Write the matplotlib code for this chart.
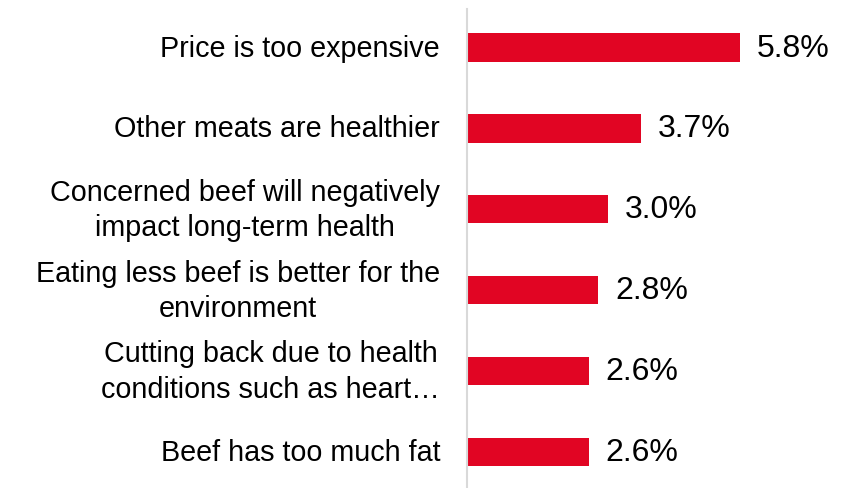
import matplotlib.pyplot as plt

plt.rcParams['font.family'] = ['Liberation Sans', 'DejaVu Sans']

reasons = [
    "Price is too expensive",
    "Other meats are healthier",
    "Concerned beef will negatively\nimpact long-term health",
    "Eating less beef is better for the\nenvironment",
    "Cutting back due to health\nconditions such as heart\u2026",
    "Beef has too much fat",
]
shares = [5.8, 3.7, 3.0, 2.8, 2.6, 2.6]
value_labels = ["5.8%", "3.7%", "3.0%", "2.8%", "2.6%", "2.6%"]

bar_color = "#E10523"

fig = plt.figure(figsize=(8.43, 4.89), dpi=100)
ax = fig.add_axes([466.5 / 843, 0, 1 - 466.5 / 843, 1 - 10 / 489])

pos = list(range(len(reasons)))
ax.barh(pos, shares, height=0.35, color=bar_color)

ax.set_ylim(5.445, -0.476)
ax.set_xlim(0, 7.99)

for y, v, lab in zip(pos, shares, value_labels):
    ax.annotate(lab, xy=(v, y), xytext=(12, 0), textcoords="offset points",
                ha="left", va="center", fontsize=23, color="black")

for y, r in zip(pos, reasons):
    ax.annotate(r, xy=(0, y), xycoords=("axes fraction", "data"),
                xytext=(-19, 0), textcoords="offset points",
                ha="right", va="center", multialignment="center",
                fontsize=20.7, color="black", linespacing=1.33,
                annotation_clip=False)

for s in ["top", "right", "bottom"]:
    ax.spines[s].set_visible(False)
ax.spines["left"].set_color("#D9D9D9")
ax.spines["left"].set_linewidth(1.5)
ax.set_xticks([])
ax.set_yticks([])
ax.patch.set_alpha(0)

fig.savefig("out.png", dpi=100)
